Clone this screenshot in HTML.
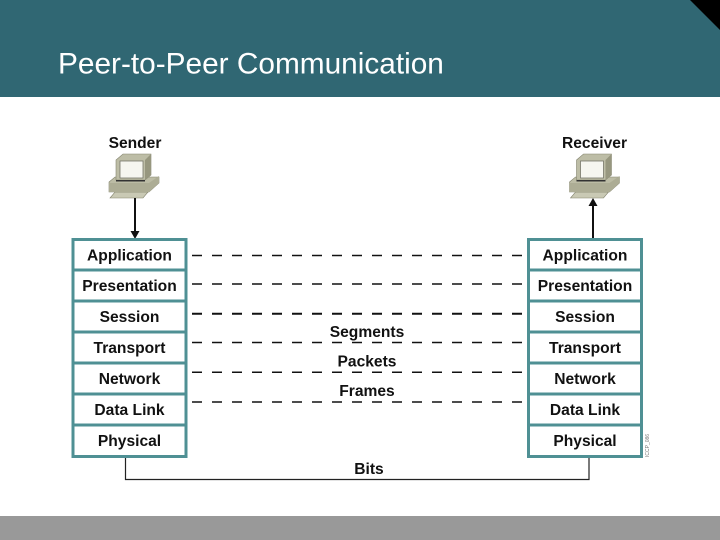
<!DOCTYPE html>
<html><head><meta charset="utf-8"><style>
html,body{margin:0;padding:0;background:#fff}
svg{display:block}
text{font-family:"Liberation Sans",sans-serif}
.l{font-size:15.6px;font-weight:bold;fill:#111;text-anchor:middle}
</style></head><body>
<svg width="720" height="540" viewBox="0 0 720 540" xmlns="http://www.w3.org/2000/svg">
<defs>
<g id="pc">
<polygon points="1,44 6,38 39,38 34,44" fill="#c9c9b4" stroke="#85856f" stroke-width=".6"/>
<polygon points="0,28 6,23 50,23 50,29 40,38 0,38" fill="#bcbca5" stroke="#85856f" stroke-width=".6"/>
<polygon points="0,29 40,29 50,22 50,29 40,38 0,38" fill="#adad95"/>
<polygon points="7,6 14,0 42,0 42,21 36,26 7,26" fill="#bdbda6" stroke="#85856f" stroke-width=".6"/>
<polygon points="36,6 42,0 42,21 36,26" fill="#97977f"/>
<rect x="11" y="7" width="23" height="17" fill="#f6f6f0" stroke="#77776a" stroke-width=".8"/>
<rect x="7" y="26" width="29" height="1.500" fill="#333"/>
</g>
<g id="stack">
<rect x="1.500" y="1.500" width="113" height="217" fill="#fff" stroke="#4f9094" stroke-width="3"/>
<path d="M0 32H116M0 63H116M0 94H116M0 125H116M0 156H116M0 187H116" stroke="#4f9094" stroke-width="3" fill="none"/>
<text class="l" x="58" y="22.500">Application</text>
<text class="l" x="58" y="53">Presentation</text>
<text class="l" x="58" y="84">Session</text>
<text class="l" x="58" y="115">Transport</text>
<text class="l" x="58" y="146">Network</text>
<text class="l" x="58" y="177">Data Link</text>
<text class="l" x="58" y="208">Physical</text>
</g>
</defs>
<rect width="720" height="97" fill="#306773"/>
<polygon points="690,0 720,0 720,30" fill="#000"/>
<text x="58" y="73.500" font-size="29.800" fill="#fff">Peer-to-Peer Communication</text>
<rect y="516" width="720" height="24" fill="#999"/>

<text class="l" x="135" y="148">Sender</text>
<text class="l" x="594.500" y="148">Receiver</text>
<use href="#pc" x="109" y="154"/>
<use href="#pc" x="569.500" y="154"/>

<path d="M135 198V233" stroke="#111" stroke-width="2"/>
<polygon points="130.500,231 139.500,231 135,239" fill="#111"/>
<path d="M593 204V239" stroke="#111" stroke-width="2"/>
<polygon points="588.500,206 597.500,206 593,198" fill="#111"/>

<use href="#stack" x="71.500" y="238"/>
<use href="#stack" x="527" y="238"/>

<g stroke="#111" stroke-width="1.500" stroke-dasharray="10 10" fill="none">
<path d="M192 255.500H524"/>
<path d="M192 284H524"/>
<path d="M192 313.700H524" stroke-width="2"/>
<path d="M192 342.500H524"/>
<path d="M192 372.300H524"/>
<path d="M192 402H524"/>
</g>
<text class="l" x="367" y="337">Segments</text>
<text class="l" x="367" y="366.500">Packets</text>
<text class="l" x="367" y="396">Frames</text>

<path d="M125.500 458V479.500H589V458" stroke="#222" stroke-width="1.200" fill="none"/>
<text class="l" x="369" y="474">Bits</text>
<text x="0" y="0" font-size="5" fill="#777" transform="translate(649,457) rotate(-90)">ICCP_086</text>
</svg>
</body></html>
